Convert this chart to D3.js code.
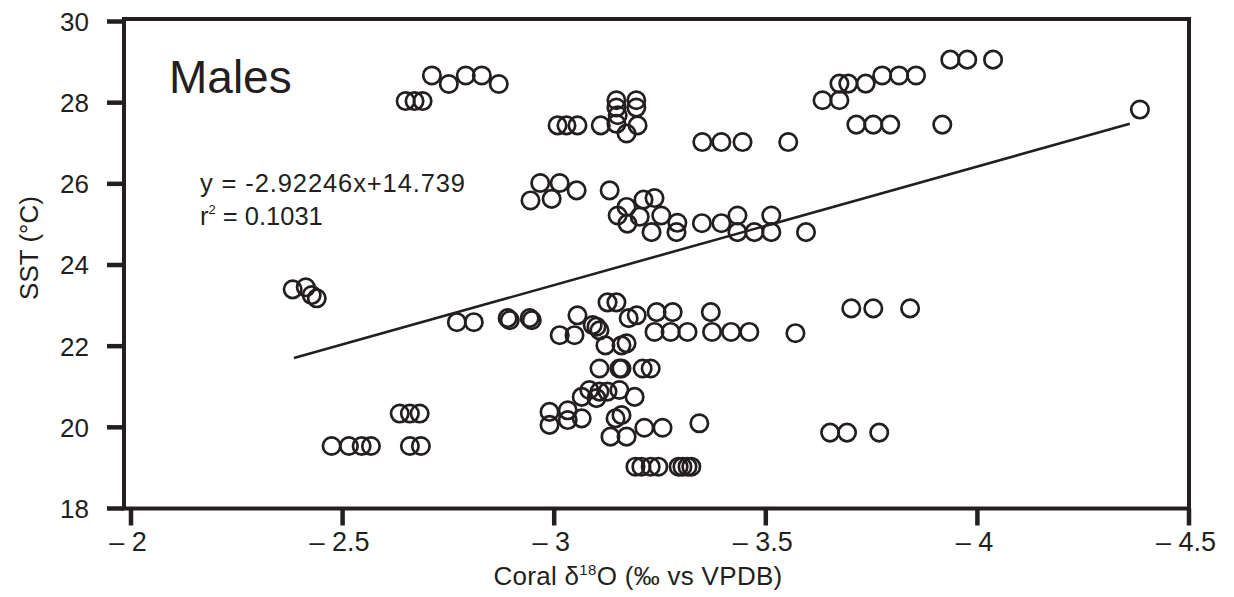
<!DOCTYPE html>
<html lang="en">
<head>
  <meta charset="UTF-8">
  <title>Males SST vs coral d18O</title>
  <script src="https://d3js.org/d3.v7.min.js"></script>
  <style>
    body { margin: 0; background: #fff; }
    svg { display: block; font-family: "Liberation Sans", Arial, sans-serif; }
    .frame { fill: none; stroke: #231f20; stroke-width: 4; }
    .tick { stroke: #231f20; stroke-width: 4.5; }
    .pt { fill: none; stroke: #231f20; stroke-width: 2.7; }
    .fit { stroke: #231f20; stroke-width: 2.6; }
    text { fill: #231f20; }
  </style>
</head>
<body>
<svg width="1234" height="597"></svg>
<script>
// === Data ===
const coralD18O = [
  -2.711, -2.751, -2.791, -2.829, -2.869,
  -2.649, -2.670, -2.689,
  -3.008, -3.029, -3.055, -3.110,
  -3.147, -3.194, -3.147, -3.194, -3.150, -3.147, -3.197, -3.171,
  -3.350, -3.395, -3.445, -3.553,
  -3.634, -3.674, -3.674, -3.695, -3.736, -3.775, -3.815, -3.855,
  -3.714, -3.754, -3.794, -3.917,
  -3.936, -3.976, -4.037,
  -4.384,
  -2.944, -2.967, -3.013, -2.994, -3.053, -3.131,
  -3.171, -3.211, -3.237, -3.150, -3.173, -3.202, -3.253, -3.230, -3.291, -3.289,
  -3.349, -3.395, -3.433, -3.433, -3.473, -3.513, -3.513, -3.595,
  -2.382, -2.413, -2.427, -2.439,
  -2.770, -2.810, -2.890, -2.895, -2.942, -2.947,
  -3.126, -3.147,
  -3.242, -3.280, -3.370,
  -3.195, -3.055, -3.176, -3.091, -3.100, -3.107,
  -3.013, -3.048,
  -3.237, -3.275, -3.315, -3.373, -3.418, -3.461, -3.570,
  -3.121, -3.159, -3.171,
  -3.107, -3.154, -3.159, -3.209, -3.228,
  -3.065, -3.083, -3.100, -3.107, -3.126, -3.154, -3.190,
  -2.989, -2.989, -3.032, -3.032, -3.065, -3.145, -3.159, -3.133, -3.171, -3.213, -3.256, -3.343,
  -3.192, -3.206, -3.228, -3.246, -3.294, -3.303, -3.315, -3.324,
  -2.474, -2.515, -2.545, -2.567, -2.635, -2.659, -2.682, -2.659, -2.685,
  -3.702, -3.754, -3.841, -3.652, -3.692, -3.768
];
const sst = [
  28.67, 28.46, 28.67, 28.67, 28.46,
  28.04, 28.04, 28.04,
  27.44, 27.44, 27.44, 27.44,
  28.06, 28.06, 27.88, 27.88, 27.69, 27.48, 27.44, 27.24,
  27.03, 27.03, 27.03, 27.03,
  28.06, 28.06, 28.47, 28.47, 28.47, 28.67, 28.67, 28.67,
  27.46, 27.46, 27.46, 27.46,
  29.06, 29.06, 29.06,
  27.83,
  25.59, 26.02, 26.02, 25.63, 25.84, 25.84,
  25.43, 25.61, 25.65, 25.22, 25.02, 25.19, 25.22, 24.81, 25.04, 24.81,
  25.03, 25.03, 25.22, 24.81, 24.81, 25.22, 24.81, 24.81,
  23.40, 23.45, 23.26, 23.18,
  22.59, 22.59, 22.69, 22.64, 22.69, 22.64,
  23.08, 23.08,
  22.84, 22.84, 22.84,
  22.76, 22.76, 22.69, 22.52, 22.48, 22.39,
  22.27, 22.27,
  22.35, 22.35, 22.35, 22.35, 22.35, 22.35, 22.32,
  22.02, 22.02, 22.07,
  21.45, 21.45, 21.45, 21.45, 21.45,
  20.75, 20.92, 20.72, 20.88, 20.88, 20.92, 20.75,
  20.38, 20.06, 20.42, 20.18, 20.22, 20.22, 20.30, 19.77, 19.77, 19.99, 19.99, 20.10,
  19.03, 19.03, 19.03, 19.03, 19.03, 19.03, 19.03, 19.03,
  19.54, 19.54, 19.54, 19.54, 20.34, 20.34, 20.34, 19.54, 19.54,
  22.93, 22.93, 22.93, 19.87, 19.87, 19.87
];
const xTicks = [-2, -2.5, -3, -3.5, -4, -4.5];
const yTicks = [18, 20, 22, 24, 26, 28, 30];
const slope = -2.92246, intercept = 14.739;
const fitRange = [-2.385, -4.36];
const title = "Males";
const equation = "y = -2.92246x+14.739";

// === Scales ===
const svg = d3.select("svg");
const x = d3.scaleLinear().domain([-2, -4.5]).range([131, 1189]);
const y = d3.scaleLinear().domain([18, 30]).range([508.5, 21.5]);
const frame = { left: 124, right: 1189, top: 19, bottom: 508.5 };

// === Frame and ticks ===
svg.append("rect").attr("class", "frame")
  .attr("x", frame.left).attr("y", frame.top)
  .attr("width", frame.right - frame.left).attr("height", frame.bottom - frame.top);

svg.append("g").selectAll("line").data(yTicks).join("line")
  .attr("class", "tick")
  .attr("x1", frame.left - 17).attr("x2", frame.left)
  .attr("y1", d => y(d)).attr("y2", d => y(d));

svg.append("g").selectAll("text").data(yTicks).join("text")
  .attr("x", 89).attr("y", d => y(d)).attr("dy", "0.36em")
  .attr("text-anchor", "end").attr("font-size", 26)
  .text(d => d);

svg.append("g").selectAll("line").data(xTicks).join("line")
  .attr("class", "tick")
  .attr("x1", d => x(d)).attr("x2", d => x(d))
  .attr("y1", frame.bottom).attr("y2", frame.bottom + 17);

svg.append("g").selectAll("text").data(xTicks).join("text")
  .attr("x", d => x(d) - 3).attr("y", 551)
  .attr("text-anchor", "middle").attr("font-size", 27)
  .text(d => "\u2013 " + Math.abs(d));

// === Axis titles ===
svg.append("text")
  .attr("transform", "translate(38,248) rotate(-90)")
  .attr("text-anchor", "middle").attr("font-size", 26)
  .text("SST (°C)");

const xt = svg.append("text")
  .attr("x", 638).attr("y", 585)
  .attr("text-anchor", "middle").attr("font-size", 26)
  .attr("letter-spacing", 0.3);
xt.append("tspan").text("Coral δ");
xt.append("tspan").attr("font-size", 15).attr("dy", -10).text("18");
xt.append("tspan").attr("dy", 10).text("O (‰ vs VPDB)");

// === Regression line ===
svg.append("line").attr("class", "fit")
  .attr("x1", x(fitRange[0])).attr("y1", y(slope * fitRange[0] + intercept))
  .attr("x2", x(fitRange[1])).attr("y2", y(slope * fitRange[1] + intercept));

// === Points ===
svg.append("g").selectAll("circle").data(d3.range(coralD18O.length)).join("circle")
  .attr("class", "pt")
  .attr("cx", i => x(coralD18O[i]))
  .attr("cy", i => y(sst[i]))
  .attr("r", 8.7);

// === Labels ===
svg.append("text").attr("x", 169).attr("y", 93).attr("font-size", 46).text(title);

svg.append("text").attr("x", 200).attr("y", 192).attr("font-size", 25.5)
  .attr("textLength", 265).attr("lengthAdjust", "spacing")
  .text(equation);

const r2 = svg.append("text").attr("x", 200).attr("y", 225).attr("font-size", 25.5);
r2.append("tspan").text("r");
r2.append("tspan").attr("font-size", 13).attr("dy", -11).text("2");
r2.append("tspan").attr("dy", 11).text(" = 0.1031");
</script>
</body>
</html>
